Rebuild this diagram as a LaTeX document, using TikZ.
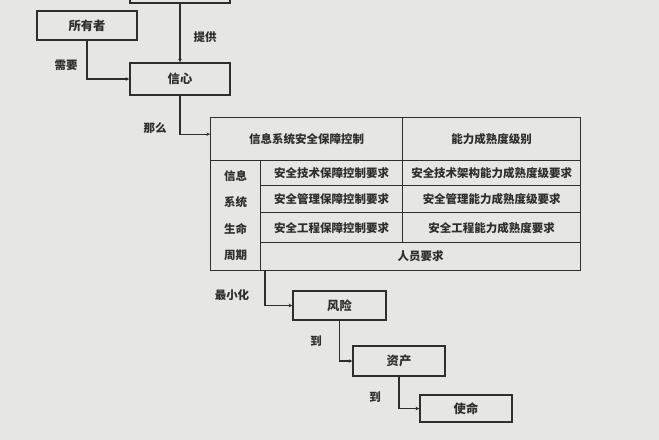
\documentclass[tikz,border=0pt]{standalone}
\usepackage{fontspec}
\usepackage{tikz}
\usetikzlibrary{arrows.meta}
\newfontfamily\cjk{Noto Sans CJK SC}
\definecolor{paper}{HTML}{E6E6E3}
\definecolor{ink}{HTML}{2E2E2E}
\def\px{0.03cm}
\tikzset{
	box/.style={draw=ink,line width=1.3pt,minimum width=#1,minimum height=29*\px,inner sep=0pt,font=\cjk\bfseries\fontsize{10.5}{12}\selectfont,text=ink},
	cell/.style={draw=ink,line width=1.1pt,anchor=north west,inner sep=0pt,font=\cjk\bfseries\fontsize{9.8}{11}\selectfont,text=ink},
	lbl/.style={font=\cjk\bfseries\fontsize{9.8}{11}\selectfont,text=ink},
	link/.style={draw=ink,line width=1.1pt,-{Stealth[length=3pt,width=3pt]}}
}
\begin{document}
\begin{tikzpicture}[x=0.03cm,y=-0.03cm]
	\fill[paper](0,0)rectangle(659,440);
	\useasboundingbox(0,0)rectangle(659,440);
	\node[box=100*\px,minimum height=30*\px](top)at(180,-12){};
	\node[box=100*\px](own)at(87,25.5){所有者};
	\node[box=100*\px,minimum height=32*\px](xin)at(180,79){信心};
	\node[cell,minimum width=192*\px,minimum height=43*\px](h1)at(210,117){信息系统安全保障控制};
	\node[cell,minimum width=178*\px,minimum height=43*\px](h2)at(402,117){能力成熟度级别};
	\node[cell,minimum width=50*\px,minimum height=110*\px,align=center,font=\cjk\bfseries\fontsize{9.8}{22.5}\selectfont](life)at(210,160){信息\\系统\\生命\\周期};
	\node[cell,minimum width=142*\px,minimum height=25*\px](r1a)at(260,160){安全技术保障控制要求};
	\node[cell,minimum width=178*\px,minimum height=25*\px](r1b)at(402,160){安全技术架构能力成熟度级要求};
	\node[cell,minimum width=142*\px,minimum height=27*\px](r2a)at(260,185){安全管理保障控制要求};
	\node[cell,minimum width=178*\px,minimum height=27*\px](r2b)at(402,185){安全管理能力成熟度级要求};
	\node[cell,minimum width=142*\px,minimum height=30*\px](r3a)at(260,212){安全工程保障控制要求};
	\node[cell,minimum width=178*\px,minimum height=30*\px](r3b)at(402,212){安全工程能力成熟度要求};
	\node[cell,minimum width=320*\px,minimum height=28*\px](r4)at(260,242){人员要求};
	\node[box=93*\px](risk)at(339.5,305.5){风险};
	\node[box=92*\px,minimum height=30*\px](asset)at(399,361){资产};
	\node[box=92*\px,minimum height=27*\px](mission)at(466,408.5){使命};
	\draw[link](top.south)--(xin.north);
	\draw[link](own.south)|-(xin.west);
	\draw[link](xin.south)|-([yshift=5*\px]h1.west);
	\draw[link]([xshift=5*\px]r4.south west)|-(risk.west);
	\draw[link](risk.south)|-(asset.west);
	\draw[link](asset.south)|-(mission.west);
	\node[lbl](give)at(205,37){提供};
	\node[lbl](need)at(66,65){需要};
	\node[lbl](then)at(155,128){那么};
	\node[lbl](mini)at(232,295){最小化};
	\node[lbl](to1)at(316,341){到};
	\node[lbl](to2)at(375,397){到};
\end{tikzpicture}
\end{document}
